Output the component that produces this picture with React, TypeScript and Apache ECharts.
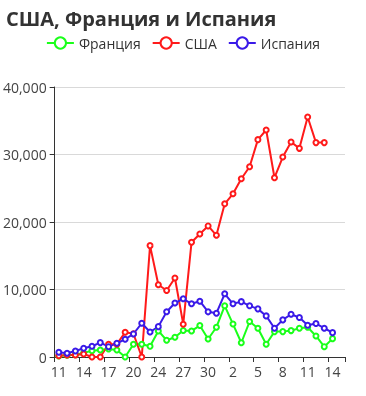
import React, { useEffect, useRef } from "react";
import * as echarts from "echarts";

const dates = [
  "03-11","03-12","03-13","03-14","03-15","03-16","03-17","03-18","03-19","03-20",
  "03-21","03-22","03-24","03-25","03-26","03-27","03-28","03-29","03-30","03-31",
  "04-01","04-02","04-03","04-04","04-05","04-06","04-07","04-08","04-09","04-10",
  "04-11","04-12","04-13","04-14","04-15",
];

const france = [
  150, 250, 350, 600, 940, 1040, 1190, 1040, 0, 1890,
  1900, 1580, 3860, 2480, 2930, 3930, 3860, 4660, 2670, 4410,
  7580, 4880, 2110, 5250, 4260, 1890, 3760, 3760, 3910, 4260,
  4410, 3120, 1530, 2720, null,
];

const usa = [
  200, 300, 300, 450, 0, 0, 1900, 1900, 3670, 3450,
  0, 16500, 10700, 9850, 11700, 4860, 16990, 18230, 19420, 18030,
  22690, 24180, 26410, 28190, 32200, 33630, 26560, 29620, 31850, 30910,
  35560, 31760, 31760, null, null,
];

const spain = [
  700, 550, 890, 1290, 1590, 2130, 1530, 2030, 2630, 3420,
  5000, 3700, 4500, 6700, 8000, 8620, 7880, 8270, 6690, 6490,
  9360, 7880, 8200, 7580, 7130, 6090, 4260, 5500, 6340, 5840,
  4710, 4950, 4260, 3610, null,
];

const yTicks = { min: 0, max: 40000, interval: 10000 };

const FONT = "'Open Sans', 'Noto Sans', sans-serif";

export default function App() {
  const ref = useRef<HTMLDivElement>(null);
  useEffect(() => {
    if (!ref.current) return;
    const chart = echarts.init(ref.current, null, { renderer: "svg" });
    const mk = (name: string, color: string, data: (number | null)[]) => ({
      name,
      type: "line",
      data,
      symbol: "emptyCircle",
      symbolSize: 5,
      color,
      lineStyle: { width: 2, color },
      itemStyle: { color, borderWidth: 1.2 },
    });
    chart.setOption({
      animation: false,
      textStyle: { fontFamily: FONT },
      title: {
        text: "США, Франция и Испания",
        left: 1,
        top: 3,
        textStyle: { fontSize: 20, fontWeight: "bold", color: "#333", fontFamily: FONT },
      },
      legend: {
        top: 31,
        left: "center",
        itemWidth: 27,
        itemHeight: 14,
        itemGap: 11,
        textStyle: { fontSize: 14, color: "#333", fontFamily: FONT },
        data: ["Франция", "США", "Испания"],
      },
      grid: { left: 53, right: 21, top: 87, bottom: 39, containLabel: false },
      xAxis: {
        type: "category",
        data: dates,
        boundaryGap: true,
        axisLine: { show: true, lineStyle: { color: "#333" } },
        axisTick: { show: true, interval: 2, length: 5, lineStyle: { color: "#333" } },
        axisLabel: {
          interval: 2,
          fontSize: 14,
          color: "#444",
          margin: 7,
          fontFamily: FONT,
          formatter: (v: string) => String(Number(v.split("-")[1])),
        },
        splitLine: { show: false },
      },
      yAxis: {
        type: "value",
        min: yTicks.min,
        max: yTicks.max,
        interval: yTicks.interval,
        axisLine: { show: true, lineStyle: { color: "#333" } },
        axisTick: { show: true, length: 5, lineStyle: { color: "#333" } },
        axisLabel: {
          fontSize: 14,
          color: "#444",
          margin: 8,
          fontFamily: FONT,
          formatter: (v: number) => v.toLocaleString("en-US"),
        },
        splitLine: { show: true, lineStyle: { color: "#d9d9d9", width: 1 } },
      },
      series: [
        mk("Франция", "#1aff1a", france),
        mk("США", "#ff1a1a", usa),
        mk("Испания", "#3a1ae8", spain),
      ],
    });
    return () => chart.dispose();
  }, []);
  return (
    <div
      ref={ref}
      style={{ position: "fixed", left: 0, top: 0, width: 366, height: 396 }}
    />
  );
}
